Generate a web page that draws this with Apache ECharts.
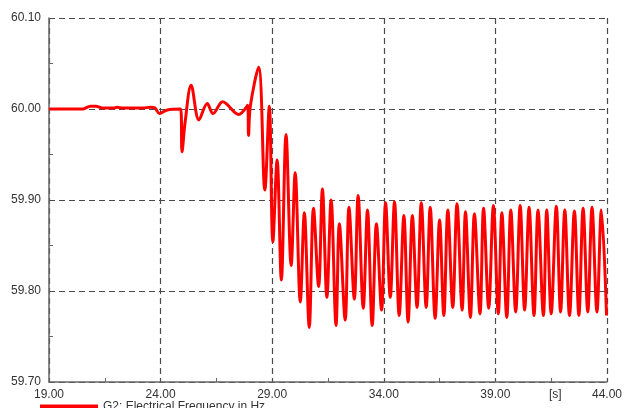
<!DOCTYPE html>
<html>
<head>
<meta charset="utf-8">
<script src="https://cdn.jsdelivr.net/npm/echarts@6/dist/echarts.min.js"></script>
<style>
  html, body { margin: 0; padding: 0; background: #fff; }
  #chart { width: 625px; height: 408px; }
</style>
</head>
<body>
<div id="chart"></div>
<script>
const T0 = 19;
const SERIES_NAME = "G2: Electrical Frequency in Hz";
const Y_TICKS = [59.7, 59.8, 59.9, 60.0, 60.1];

// time [s]
const times = [
  19.00, 20.50, 20.85, 21.10, 21.40, 21.90, 22.05, 22.30, 23.20, 23.55,
  23.75, 23.95, 24.30, 24.90, 24.96, 25.10, 25.37, 25.72, 26.09, 26.35,
  26.78, 27.50, 27.90, 27.94, 28.02, 28.39, 28.67, 28.87, 29.03, 29.22,
  29.41, 29.62, 29.85, 30.03, 30.26, 30.44, 30.66, 30.85, 31.08, 31.25,
  31.45, 31.64, 31.86, 32.01, 32.27, 32.44, 32.68, 32.85, 33.08, 33.27,
  33.48, 33.67, 33.90, 34.08, 34.29, 34.48, 34.69, 34.90, 35.09, 35.28,
  35.49, 35.68, 35.90, 36.08, 36.30, 36.50, 36.69, 36.87, 37.09, 37.28,
  37.51, 37.66, 37.88, 38.06, 38.31, 38.47, 38.70, 38.91, 39.13, 39.29,
  39.51, 39.69, 39.91, 40.11, 40.31, 40.51, 40.73, 40.91, 41.15, 41.30,
  41.50, 41.73, 41.92, 42.11, 42.32, 42.54, 42.74, 42.93, 43.14, 43.33,
  43.55, 43.75, 43.98
];

// frequency [Hz]
const freq = [
  60.000, 60.000, 60.003, 60.003, 60.001, 60.001, 60.002, 60.001, 60.001, 60.002,
  60.001, 59.995, 59.999, 60.000, 59.953, 59.986, 60.026, 59.988, 60.006, 59.995,
  60.008, 59.994, 60.004, 59.971, 60.003, 60.046, 59.911, 60.003, 59.854, 59.944,
  59.812, 59.972, 59.828, 59.930, 59.788, 59.886, 59.760, 59.891, 59.805, 59.912,
  59.793, 59.900, 59.762, 59.874, 59.768, 59.892, 59.791, 59.905, 59.781, 59.889,
  59.762, 59.874, 59.779, 59.897, 59.793, 59.898, 59.773, 59.883, 59.766, 59.883,
  59.782, 59.897, 59.782, 59.892, 59.770, 59.878, 59.773, 59.889, 59.782, 59.896,
  59.779, 59.887, 59.771, 59.885, 59.775, 59.891, 59.781, 59.894, 59.775, 59.886,
  59.771, 59.889, 59.777, 59.894, 59.779, 59.892, 59.773, 59.889, 59.773, 59.889,
  59.775, 59.893, 59.777, 59.889, 59.773, 59.888, 59.773, 59.891, 59.777, 59.892,
  59.777, 59.889, 59.773
];

const chart = echarts.init(document.getElementById("chart"));
const FONT = "'Liberation Sans', Arial, sans-serif";
const gridLine = { show: true, lineStyle: { color: "#4a4a4a", width: 1.2, type: [6, 4] } };
const axisLine = { show: true, lineStyle: { color: "#666", width: 1.5 } };
const axisTick = { show: false, inside: true };
const minorTick = { show: true, splitNumber: 2, length: 4, lineStyle: { color: "#666", width: 1 } };

chart.setOption({
  animation: false,
  grid: { left: 49, right: 15, top: 18, bottom: 26 },
  legend: {
    left: 35,
    top: 396,
    icon: "rect",
    itemWidth: 58,
    itemHeight: 5,
    itemGap: 5,
    textStyle: { color: "#333", fontSize: 12, fontFamily: FONT },
    data: [SERIES_NAME],
  },
  xAxis: {
    type: "value",
    min: 0,
    max: 25,
    interval: 5,
    axisLine,
    axisTick,
    minorTick,
    splitLine: gridLine,
    axisLabel: {
      color: "#333",
      fontSize: 12,
      fontFamily: FONT,
      margin: 7,
      formatter: (v) => (v + T0).toFixed(2),
    },
  },
  yAxis: {
    type: "value",
    min: Y_TICKS[0],
    max: Y_TICKS[Y_TICKS.length - 1],
    interval: 0.1,
    axisLine,
    axisTick,
    minorTick,
    splitLine: gridLine,
    axisLabel: {
      color: "#333",
      fontSize: 12,
      fontFamily: FONT,
      margin: 8,
      formatter: (v) => v.toFixed(2),
    },
  },
  graphic: [
    {
      type: "text",
      left: 549,
      top: 389,
      style: { text: "[s]", fill: "#333", font: "12px " + FONT },
    },
  ],
  series: [
    {
      name: SERIES_NAME,
      type: "line",
      showSymbol: false,
      smooth: 0.35,
      color: "#ff0000",
      lineStyle: { color: "#ff0000", width: 3 },
      data: times.map((t, i) => [t - T0, freq[i]]),
    },
  ],
});
</script>
</body>
</html>
